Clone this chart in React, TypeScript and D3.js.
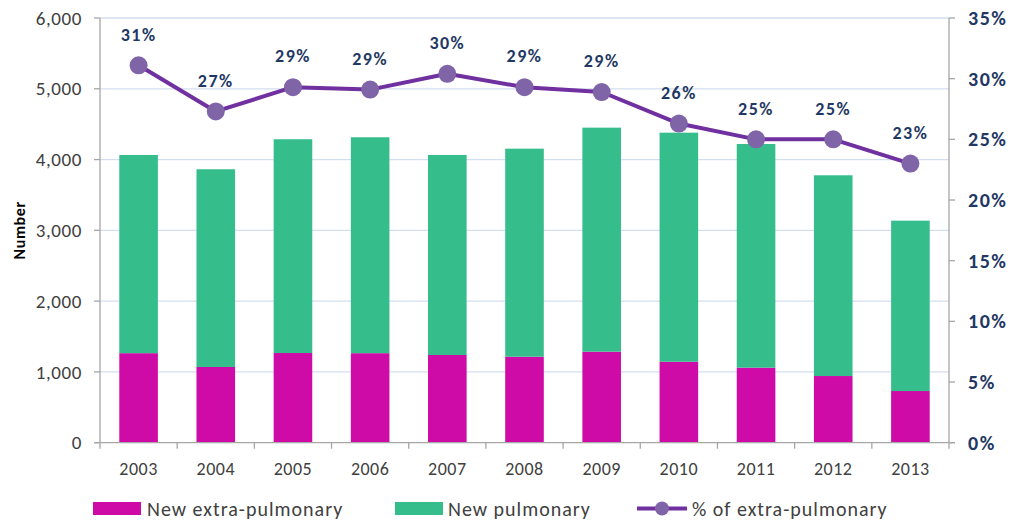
import React from "react";
import * as d3 from "d3";

const years = ["2003", "2004", "2005", "2006", "2007", "2008", "2009", "2010", "2011", "2012", "2013"];
const extraPulmonary = [1265, 1070, 1267, 1265, 1239, 1215, 1286, 1144, 1060, 942, 730];
const pulmonary = [2800, 2793, 3020, 3050, 2826, 2939, 3165, 3236, 3160, 2836, 2407];
const pctExtra = [31.1, 27.3, 29.3, 29.1, 30.4, 29.3, 28.9, 26.3, 25.0, 25.0, 23.0];
const pctLabels = ["31%", "27%", "29%", "29%", "30%", "29%", "29%", "26%", "25%", "25%", "23%"];
const leftTicks = [0, 1000, 2000, 3000, 4000, 5000, 6000];
const rightTicks = [0, 5, 10, 15, 20, 25, 30, 35];
const seriesNames = ["New extra-pulmonary", "New pulmonary", "% of extra-pulmonary"];

const W = 1013;
const H = 521;
const M = { left: 100, right: 949, top: 18, bottom: 442.7 };
const FONT = "Carlito, Calibri, Lato, 'Open Sans', sans-serif";
const MAGENTA = "#cf0ba7";
const GREEN = "#35bd8c";
const LINE = "#7030a0";
const MARKER = "#8064a8";
const NAVY = "#1f3864";
const GRID = "#d3def0";
const AXIS = "#a6a6a6";
const TXT = "#404040";

export default function App() {
  const x = d3.scaleBand<string>().domain(years).range([M.left, M.right]).paddingInner(0.5).paddingOuter(0.25);
  const xOuter = d3.scaleBand<string>().domain(years).range([M.left, M.right]).padding(0);
  const y = d3.scaleLinear().domain([0, 6000]).range([M.bottom, M.top]);
  const y2 = d3.scaleLinear().domain([0, 35]).range([M.bottom, M.top]);
  const cx = (i: number) => (x(years[i]) as number) + x.bandwidth() / 2;

  const stack = d3.stack<number>().keys(["extra", "pulm"]).value((i, k) => (k === "extra" ? extraPulmonary[i] : pulmonary[i]));
  const stacked = stack(years.map((_, i) => i));
  const colors = [MAGENTA, GREEN];

  const line = d3
    .line<number>()
    .x((_, i) => cx(i))
    .y((d) => y2(d));

  const boundaries = years.map((yr) => xOuter(yr) as number).concat([M.right]);

  return (
    <div style={{ position: "absolute", left: 0, top: 0 }}>
      <svg width={W} height={H} style={{ display: "block", background: "#fff" }} fontFamily={FONT}>
        {leftTicks.slice(1).map((t) => (
          <line key={"g" + t} x1={M.left} x2={M.right} y1={y(t)} y2={y(t)} stroke={GRID} strokeWidth={1.3} />
        ))}
        {stacked.map((layer, li) =>
          layer.map((d, i) => (
            <rect
              key={li + "-" + i}
              x={x(years[i])}
              width={x.bandwidth()}
              y={y(d[1])}
              height={y(d[0]) - y(d[1])}
              fill={colors[li]}
            />
          ))
        )}
        <line x1={M.left} x2={M.left} y1={M.top} y2={M.bottom} stroke={AXIS} strokeWidth={1.3} />
        <line x1={M.right} x2={M.right} y1={M.top} y2={M.bottom} stroke={AXIS} strokeWidth={1.3} />
        <line x1={M.left - 6} x2={M.right + 6} y1={M.bottom} y2={M.bottom} stroke={AXIS} strokeWidth={1.3} />
        {leftTicks.map((t) => (
          <g key={"l" + t}>
            <line x1={M.left - 6} x2={M.left} y1={y(t)} y2={y(t)} stroke={AXIS} strokeWidth={1.3} />
            <text x={82} y={y(t)} dy="0.35em" textAnchor="end" fontSize={19} letterSpacing={0.6} fill={TXT}>
              {d3.format(",")(t)}
            </text>
          </g>
        ))}
        {rightTicks.map((t) => (
          <g key={"r" + t}>
            <line x1={M.right} x2={M.right + 6} y1={y2(t)} y2={y2(t)} stroke={AXIS} strokeWidth={1.3} />
            <text x={968} y={y2(t)} dy="0.35em" textAnchor="start" fontSize={20} letterSpacing={1.5} fontWeight={700} fill={NAVY}>
              {t + "%"}
            </text>
          </g>
        ))}
        {boundaries.map((b, i) => (
          <line key={"b" + i} x1={b} x2={b} y1={M.bottom} y2={M.bottom + 6} stroke={AXIS} strokeWidth={1.3} />
        ))}
        {years.map((yr, i) => (
          <text key={"x" + yr} x={cx(i)} y={469} dy="0.35em" textAnchor="middle" fontSize={18} letterSpacing={0.5} fill={TXT}>
            {yr}
          </text>
        ))}
        <text
          transform={`translate(19,${(M.top + M.bottom) / 2}) rotate(-90)`}
          textAnchor="middle"
          dy="0.35em"
          fontSize={16}
          letterSpacing={0.6}
          fontWeight={700}
          fill="#000"
        >
          Number
        </text>
        <path d={line(pctExtra) || ""} fill="none" stroke={LINE} strokeWidth={4} strokeLinejoin="round" />
        {pctExtra.map((p, i) => (
          <circle key={"c" + i} cx={cx(i)} cy={y2(p)} r={9} fill={MARKER} />
        ))}
        {pctExtra.map((p, i) => (
          <text key={"pl" + i} x={cx(i)} y={y2(p) - 31} dy="0.35em" textAnchor="middle" fontSize={18} letterSpacing={1.5} fontWeight={700} fill={NAVY}>
            {pctLabels[i]}
          </text>
        ))}
        <rect x={93} y={502} width={48} height={13} fill={MAGENTA} />
        <text x={147} y={508.5} dy="0.35em" fontSize={20} letterSpacing={1} fill={TXT}>
          {seriesNames[0]}
        </text>
        <rect x={395} y={502} width={48} height={13} fill={GREEN} />
        <text x={448} y={508.5} dy="0.35em" fontSize={20} letterSpacing={1} fill={TXT}>
          {seriesNames[1]}
        </text>
        <line x1={637} x2={687} y1={508.5} y2={508.5} stroke={LINE} strokeWidth={4} />
        <circle cx={662} cy={508.5} r={7} fill={MARKER} />
        <text x={692} y={508.5} dy="0.35em" fontSize={20} letterSpacing={1} fill={TXT}>
          {seriesNames[2]}
        </text>
      </svg>
    </div>
  );
}
